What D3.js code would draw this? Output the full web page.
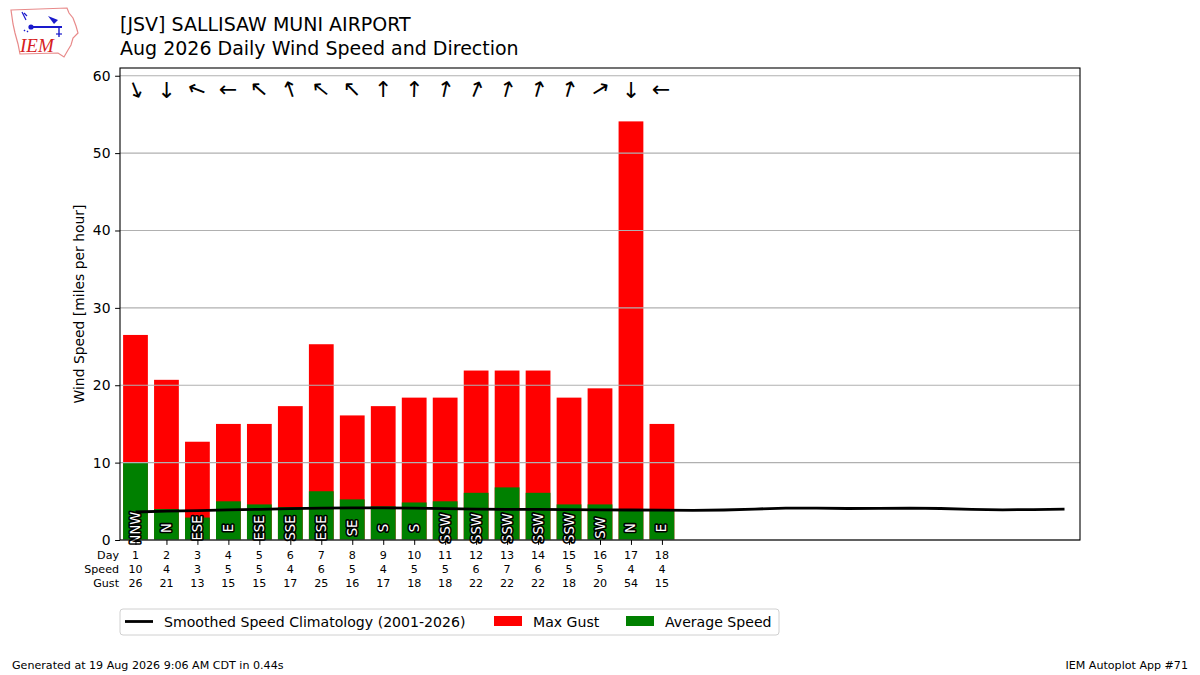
<!DOCTYPE html>
<html>
<head>
<meta charset="utf-8">
<script src="https://cdn.jsdelivr.net/npm/d3@7"></script>
<style>
  body { margin: 0; background: #fff; }
  svg { font-family: "DejaVu Sans", sans-serif; }
</style>
</head>
<body>
<svg width="1200" height="675"></svg>
<script>
// daily observations (mph)
const days = [1, 2, 3, 4, 5, 6, 7, 8, 9, 10, 11, 12, 13, 14, 15, 16, 17, 18];
const avgSpeed = [10.0, 4.0, 2.9, 5.0, 4.6, 4.25, 6.3, 5.25, 4.35, 4.85, 5.0, 6.1, 6.8, 6.1, 4.6, 4.6, 4.0, 4.0];
const maxGust = [26.5, 20.7, 12.7, 15.0, 15.0, 17.3, 25.3, 16.1, 17.3, 18.4, 18.4, 21.9, 21.9, 21.9, 18.4, 19.6, 54.1, 15.0];
const speedLabels = [10, 4, 3, 5, 5, 4, 6, 5, 4, 5, 5, 6, 7, 6, 5, 5, 4, 4];
const gustLabels = [26, 21, 13, 15, 15, 17, 25, 16, 17, 18, 18, 22, 22, 22, 18, 20, 54, 15];
const dirLabels = ['NNW', 'N', 'ESE', 'E', 'ESE', 'SSE', 'ESE', 'SE', 'S', 'S', 'SSW', 'SSW', 'SSW', 'SSW', 'SSW', 'SW', 'N', 'E'];
// direction the arrow points to (deg clockwise from north)
const arrowTo = [158, 180, 291, 270, 311, 341, 309, 315, 0, 2, 12, 22, 15, 16, 16, 58, 180, 270];

// smoothed climatology, days 1..31
const climDays = [1, 2, 3, 4, 5, 6, 7, 8, 9, 10, 11, 12, 13, 14, 15, 16, 17, 18, 19, 20, 21, 22, 23, 24, 25, 26, 27, 28, 29, 30, 31];
const climSpeed = [3.62, 3.72, 3.8, 3.9, 3.97, 4.05, 4.12, 4.16, 4.15, 4.12, 4.06, 4.0, 3.97, 3.95, 3.92, 3.9, 3.88, 3.86, 3.84, 3.88, 4.0, 4.12, 4.13, 4.07, 4.08, 4.13, 4.07, 3.96, 3.9, 3.93, 4.0];

const yTicks = [0, 10, 20, 30, 40, 50, 60];

const margin = {top: 68, right: 120, bottom: 135, left: 120};
const W = 1200, H = 675;
const innerW = W - margin.left - margin.right;
const innerH = H - margin.top - margin.bottom;

const svg = d3.select('svg');

const x = d3.scaleLinear().domain([0.5, 31.5]).range([0, innerW]);
const y = d3.scaleLinear().domain([0, 61]).range([innerH, 0]);
const barW = x(1.4) - x(0.6);

const g = svg.append('g').attr('transform', `translate(${margin.left},${margin.top})`);

// bars
g.selectAll('rect.gust').data(days).enter().append('rect')
  .attr('x', (d) => x(d) - barW / 2)
  .attr('width', barW)
  .attr('y', (d, i) => y(maxGust[i]))
  .attr('height', (d, i) => y(0) - y(maxGust[i]))
  .attr('fill', '#ff0000');

g.selectAll('rect.avg').data(days).enter().append('rect')
  .attr('x', (d) => x(d) - barW / 2)
  .attr('width', barW)
  .attr('y', (d, i) => y(avgSpeed[i]))
  .attr('height', (d, i) => y(0) - y(avgSpeed[i]))
  .attr('fill', '#008000');

// grid
g.append('g').selectAll('line').data(yTicks).enter().append('line')
  .attr('x1', 0).attr('x2', innerW)
  .attr('y1', (d) => y(d)).attr('y2', (d) => y(d))
  .attr('stroke', '#b0b0b0').attr('stroke-width', 1.1);

// climatology line
const line = d3.line().x((d) => x(d)).y((d, i) => y(climSpeed[i]));
g.append('path').datum(climDays)
  .attr('d', line)
  .attr('fill', 'none')
  .attr('stroke', '#000')
  .attr('stroke-width', 2.8);

// direction text inside bars
g.selectAll('text.dir').data(days).enter().append('text')
  .attr('transform', (d) => `translate(${x(d)},${y(1.55)}) rotate(-90)`)
  .attr('text-anchor', 'middle')
  .attr('dominant-baseline', 'central')
  .attr('font-size', 13.2)
  .attr('fill', '#fff')
  .attr('stroke', '#000')
  .attr('stroke-width', 3.2)
  .attr('paint-order', 'stroke')
  .attr('stroke-linejoin', 'round')
  .text((d, i) => dirLabels[i]);

// arrows at the top
g.selectAll('text.arrow').data(days).enter().append('text')
  .attr('transform', (d, i) => `translate(${x(d)},${y(58.2)}) rotate(${arrowTo[i]})`)
  .attr('text-anchor', 'middle')
  .attr('dominant-baseline', 'central')
  .attr('font-size', 22)
  .attr('fill', '#000')
  .text('\u2191');

// axes
const yAxis = g.append('g')
  .call(d3.axisLeft(y).tickValues(yTicks).tickSize(4.9).tickPadding(4.6));
yAxis.select('.domain').remove();
yAxis.selectAll('text').attr('font-size', 13.9).attr('font-family', 'DejaVu Sans').attr('fill', '#000');
yAxis.selectAll('line').attr('stroke', '#000');

const xAxis = g.append('g').attr('transform', `translate(0,${innerH})`)
  .call(d3.axisBottom(x).tickValues(days).tickSize(4.9).tickFormat(''));
xAxis.select('.domain').remove();
xAxis.selectAll('line').attr('stroke', '#000');

// tick table: day / speed / gust
const rows = [days, speedLabels, gustLabels];
const rowNames = ['Day', 'Speed', 'Gust'];
rows.forEach((vals, r) => {
  g.append('g').selectAll('text').data(vals).enter().append('text')
    .attr('x', (d, i) => x(days[i]))
    .attr('y', innerH + 15.5 + r * 14)
    .attr('text-anchor', 'middle')
    .attr('dominant-baseline', 'central')
    .attr('font-size', 11.1)
    .text((d) => d);
  g.append('text')
    .attr('x', -1)
    .attr('y', innerH + 15.5 + r * 14)
    .attr('text-anchor', 'end')
    .attr('dominant-baseline', 'central')
    .attr('font-size', 11.1)
    .text(rowNames[r]);
});

// frame
g.append('rect').attr('width', innerW).attr('height', innerH)
  .attr('fill', 'none').attr('stroke', '#000').attr('stroke-width', 1.1);

// y label
svg.append('text')
  .attr('transform', `translate(79,${margin.top + innerH / 2}) rotate(-90)`)
  .attr('text-anchor', 'middle')
  .attr('dominant-baseline', 'central')
  .attr('font-size', 13.9)
  .text('Wind Speed [miles per hour]');

// titles
svg.append('text').attr('x', 120).attr('y', 31).attr('font-size', 19).text('[JSV] SALLISAW MUNI AIRPORT');
svg.append('text').attr('x', 120).attr('y', 55).attr('font-size', 19).text('Aug 2026 Daily Wind Speed and Direction');

// legend
const leg = svg.append('g').attr('transform', 'translate(120,609)');
leg.append('rect').attr('width', 659).attr('height', 26).attr('rx', 3)
  .attr('fill', '#fff').attr('stroke', '#d0d0d0');
leg.append('line').attr('x1', 5).attr('x2', 33).attr('y1', 12.5).attr('y2', 12.5)
  .attr('stroke', '#000').attr('stroke-width', 2.8);
leg.append('text').attr('x', 44).attr('y', 12.5).attr('dominant-baseline', 'central')
  .attr('font-size', 14.1).text('Smoothed Speed Climatology (2001-2026)');
leg.append('rect').attr('x', 374).attr('y', 7).attr('width', 28).attr('height', 10).attr('fill', '#ff0000');
leg.append('text').attr('x', 413).attr('y', 12.5).attr('dominant-baseline', 'central')
  .attr('font-size', 14.1).text('Max Gust');
leg.append('rect').attr('x', 506).attr('y', 7).attr('width', 28).attr('height', 10).attr('fill', '#008000');
leg.append('text').attr('x', 545).attr('y', 12.5).attr('dominant-baseline', 'central')
  .attr('font-size', 14.1).text('Average Speed');

// footer
svg.append('text').attr('x', 12).attr('y', 665).attr('dominant-baseline', 'central')
  .attr('font-size', 11.1).text('Generated at 19 Aug 2026 9:06 AM CDT in 0.44s');
svg.append('text').attr('x', 1188).attr('y', 665).attr('dominant-baseline', 'central')
  .attr('text-anchor', 'end').attr('font-size', 11.1).text('IEM Autoplot App #71');

// logo (rough)
const logo = svg.append('g');
logo.append('path')
  .attr('d', 'M11,10 L67,8 L69,13 L73,18 L76,26 L78,33 L73,38 L71,45 L68,50 L64,57 L58,53 L20,54 L18,44 L15,33 L13,24 Z')
  .attr('fill', 'none').attr('stroke', '#e88a8a').attr('stroke-width', 1.2);
logo.append('line').attr('x1', 30).attr('x2', 62).attr('y1', 27).attr('y2', 27).attr('stroke', '#1a1acc').attr('stroke-width', 2);
logo.append('circle').attr('cx', 31).attr('cy', 27).attr('r', 2.6).attr('fill', '#1a1acc');
logo.append('path').attr('d', 'M48,16 L58,20 L54,24 Z').attr('fill', '#1a1acc');
logo.append('path').attr('d', 'M22,12 L26,20 M24,13 L27,16').attr('stroke', '#1a1acc').attr('stroke-width', 1.2).attr('fill', 'none');
logo.append('path').attr('d', 'M24,30 L25,31 M27,31 L28,32').attr('stroke', '#1a1acc').attr('stroke-width', 1.4).attr('fill', 'none');
logo.append('line').attr('x1', 59).attr('x2', 59).attr('y1', 27).attr('y2', 37).attr('stroke', '#1a1acc').attr('stroke-width', 1.4);
logo.append('line').attr('x1', 56).attr('x2', 62).attr('y1', 34).attr('y2', 34).attr('stroke', '#1a1acc').attr('stroke-width', 1.2);
logo.append('text').attr('x', 20).attr('y', 52).attr('font-family', 'Liberation Serif')
  .attr('font-style', 'italic').attr('font-size', 19).attr('fill', '#d62020').text('IEM');
</script>
</body>
</html>
